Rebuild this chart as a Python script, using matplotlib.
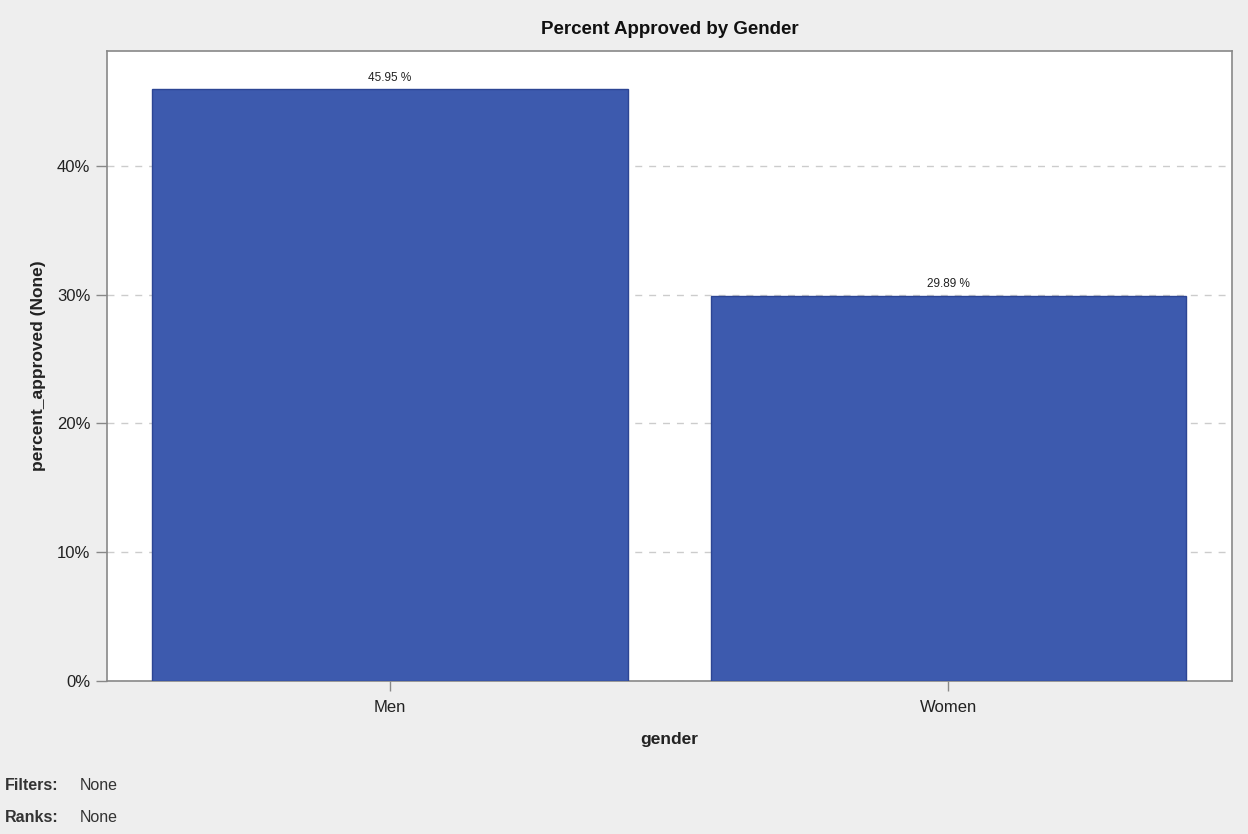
import numpy as np
import matplotlib.pyplot as plt
from matplotlib.ticker import FuncFormatter

plt.rcParams['font.family'] = ['Liberation Sans', 'DejaVu Sans']

genders = ['Men', 'Women']
percent_approved = [45.95, 29.89]
yticks = [0, 10, 20, 30, 40]

fig = plt.figure(figsize=(12.48, 8.34), dpi=100, facecolor='#eeeeee')
ax = fig.add_axes([107/1248, 1-681/834, (1232-107)/1248, (681-51)/834])
ax.set_facecolor('white')

x = np.arange(len(genders))
bars = ax.bar(x, percent_approved, width=0.852, color='#3d5aae',
              edgecolor='#2c4594', linewidth=1, zorder=3)

for xi, v in zip(x, percent_approved):
    ax.text(xi, v + 0.45, f'{v:.2f} %', ha='center', va='bottom',
            fontsize=8.5, color='#222222')

ax.set_xlim(-0.507, 1.508)
ax.set_ylim(0, 48.93)
ax.set_xticks(x)
ax.set_xticklabels(genders, fontsize=12, color='#222222')
ax.set_yticks(yticks)
ax.yaxis.set_major_formatter(FuncFormatter(lambda v, p: f'{v:.0f}%'))
ax.tick_params(axis='y', labelsize=12, labelcolor='#222222', length=8,
               color='#888888', width=1, pad=4)
ax.tick_params(axis='x', length=7, color='#888888', width=1, pad=7)
ax.grid(axis='y', linestyle=(0, (5, 5)), color='#cccccc', linewidth=1, zorder=0)

for s in ax.spines.values():
    s.set_color('#888888')
    s.set_linewidth(1.2)

ax.set_ylabel('percent_approved (None)', fontsize=12.5, fontweight='bold',
              color='#222222', labelpad=8)
ax.set_xlabel('gender', fontsize=12.5, fontweight='bold', color='#222222',
              labelpad=12)
ax.set_title('Percent Approved by Gender', fontsize=13.5, fontweight='bold',
             color='#111111', pad=12)

fig.text(5/1248, 1-786/834, 'Filters:', fontsize=11.5, fontweight='bold',
         color='#333333', va='center')
fig.text(80/1248, 1-786/834, 'None', fontsize=11.5, color='#333333', va='center')
fig.text(5/1248, 1-818/834, 'Ranks:', fontsize=11.5, fontweight='bold',
         color='#333333', va='center')
fig.text(80/1248, 1-818/834, 'None', fontsize=11.5, color='#333333', va='center')

fig.savefig('out.png', dpi=100, facecolor=fig.get_facecolor())
